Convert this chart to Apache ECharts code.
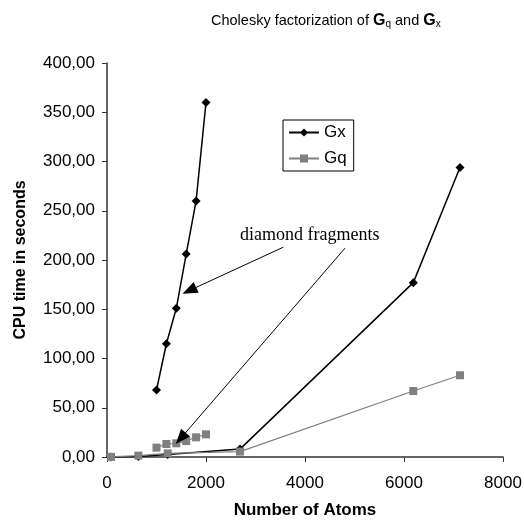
<!DOCTYPE html>
<html>
<head>
<meta charset="utf-8">
<script src="https://cdn.jsdelivr.net/npm/echarts@6/dist/echarts.min.js"></script>
<style>
    html, body { margin: 0; padding: 0; background: #fff; }
    #main { width: 524px; height: 521px; }
</style>
</head>
<body>
<div id="main"></div>
<script>
    // Gx / Gq data (atoms, seconds)
    var gxMain = [[81, 0.1], [633, 0.6], [1226, 2.5], [2687, 8], [6188, 177], [7131, 294]];
    var gxFrag = [[1000, 68], [1200, 115], [1400, 151], [1600, 206], [1800, 260], [2000, 360]];
    var gqMain = [[81, 0.1], [633, 1.4], [1226, 3.7], [2687, 5.5], [6188, 67], [7131, 83]];
    var gqFrag = [[1000, 9.5], [1200, 13.2], [1400, 13.9], [1600, 16.2], [1800, 20], [2000, 23]];
    // annotation arrows, from -> to (data coords)
    var arrows = [
        [[3562, 213], [1663, 169]],
        [[4808, 212], [1489, 19]]
    ];

    var font = 'Liberation Sans';
    var chart = echarts.init(document.getElementById('main'));

    var arrowData = arrows.map(function(a) {
        return [{ coord: a[0] }, { coord: a[1] }];
    });

    var option = {
        animation: false,
        backgroundColor: '#fff',
        title: {
            left: 206,
            top: 8,
            text: '{n|Cholesky factorization of }{g|G}{s|q}{n| and }{g|G}{s|x}',
            textStyle: {
                fontWeight: 'normal',
                rich: {
                    n: { fontFamily: font, fontSize: 14.5, fontWeight: 'normal', color: '#000' },
                    g: { fontFamily: font, fontSize: 16, fontWeight: 'bold', color: '#000' },
                    s: { fontFamily: font, fontSize: 10, fontWeight: 'normal', color: '#000', verticalAlign: 'bottom' }
                }
            }
        },
        legend: {
            orient: 'vertical',
            left: 283,
            top: 120,
            data: ['Gx', 'Gq'],
            itemWidth: 30,
            itemHeight: 10,
            itemGap: 9,
            padding: [4, 7, 4, 5],
            borderColor: '#000',
            borderWidth: 1,
            textStyle: { fontFamily: font, fontSize: 17, color: '#000' }
        },
        grid: { left: 107, right: 21, top: 63, bottom: 64, outerBoundsMode: 'none' },
        xAxis: {
            type: 'value',
            min: 0,
            max: 8000,
            interval: 2000,
            name: 'Number of Atoms',
            nameLocation: 'middle',
            nameGap: 45,
            nameTextStyle: { fontFamily: font, fontSize: 17, fontWeight: 'bold', color: '#000' },
            axisLine: { lineStyle: { color: '#333', width: 1.5 } },
            axisTick: { length: 5, lineStyle: { color: '#333' } },
            axisLabel: {
                margin: 18,
                fontFamily: font,
                fontSize: 17,
                color: '#000',
                formatter: function(v) {
                    return String(v);
                }
            },
            splitLine: { show: false }
        },
        yAxis: {
            type: 'value',
            min: 0,
            max: 400,
            interval: 50,
            name: 'CPU time in seconds',
            nameLocation: 'middle',
            nameGap: 78,
            nameTextStyle: { fontFamily: font, fontSize: 16, fontWeight: 'bold', color: '#000' },
            axisLine: { show: true, lineStyle: { color: '#333', width: 1.5 } },
            axisTick: { show: true, length: 5, lineStyle: { color: '#333' } },
            axisLabel: {
                margin: 12,
                fontFamily: font,
                fontSize: 17,
                color: '#000',
                formatter: function(v) {
                    return v.toFixed(2).replace('.', ',');
                }
            },
            splitLine: { show: false }
        },
        graphic: [{
            type: 'text',
            left: 240,
            top: 226,
            style: {
                text: 'diamond fragments',
                fontFamily: 'Liberation Serif',
                fontSize: 18,
                fill: '#000'
            }
        }],
        series: [{
            name: 'Gx',
            type: 'line',
            data: gxMain,
            symbol: 'diamond',
            symbolSize: 9,
            itemStyle: { color: '#000' },
            lineStyle: { color: '#000', width: 1.5 }
        }, {
            name: 'Gx',
            type: 'line',
            data: gxFrag,
            symbol: 'diamond',
            symbolSize: 9,
            itemStyle: { color: '#000' },
            lineStyle: { color: '#000', width: 1.5 },
            markLine: {
                silent: true,
                symbol: ['none', 'triangle'],
                symbolSize: [12, 15],
                label: { show: false },
                lineStyle: { color: '#000', width: 1, type: 'solid' },
                data: arrowData
            }
        }, {
            name: 'Gq',
            type: 'line',
            data: gqMain,
            symbol: 'rect',
            symbolSize: 8,
            itemStyle: { color: '#808080' },
            lineStyle: { color: '#808080', width: 1.2 }
        }, {
            name: 'Gq',
            type: 'line',
            data: gqFrag,
            symbol: 'rect',
            symbolSize: 8,
            itemStyle: { color: '#808080' },
            lineStyle: { color: '#808080', width: 1.2 }
        }]
    };

    chart.setOption(option);
</script>
</body>
</html>
